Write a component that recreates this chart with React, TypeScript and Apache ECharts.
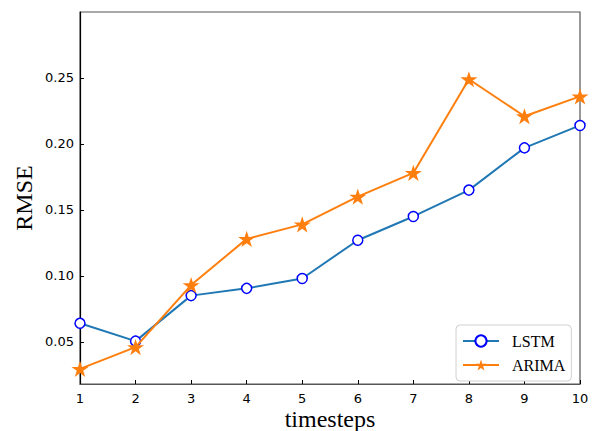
import React, { useEffect, useRef } from "react";
import * as echarts from "echarts";

const timesteps = [1, 2, 3, 4, 5, 6, 7, 8, 9, 10];
const lstm = [0.064, 0.0505, 0.085, 0.0905, 0.098, 0.127, 0.145, 0.165, 0.197, 0.214];
const arima = [0.0295, 0.046, 0.093, 0.128, 0.139, 0.16, 0.178, 0.249, 0.221, 0.236];
const yTicks = [0.05, 0.1, 0.15, 0.2, 0.25];

const STAR =
  "path://M50 0 L61.23 34.55 L97.55 34.55 L68.16 55.9 L79.39 90.45 L50 69.1 L20.61 90.45 L31.84 55.9 L2.45 34.55 L38.77 34.55 Z";

export default function App() {
  const ref = useRef<HTMLDivElement>(null);
  useEffect(() => {
    if (!ref.current) return;
    const chart = echarts.init(ref.current, undefined, { renderer: "svg" });
    const tickFont = { fontFamily: "DejaVu Sans", fontSize: 13, color: "#000" };
    chart.setOption({
      animation: false,
      grid: {
        left: 80,
        right: 17,
        top: 12,
        bottom: 47,
        containLabel: false,
        outerBoundsMode: "none",
        show: true,
        borderColor: "#555",
        borderWidth: 1.2,
        backgroundColor: "transparent",
      },
      legend: {
        orient: "vertical",
        left: 456,
        top: 325,
        padding: [8, 6, 8, 6],
        itemGap: 8,
        itemWidth: 36,
        itemHeight: 14,
        backgroundColor: "#fff",
        borderColor: "#d0d0d0",
        borderWidth: 1,
        borderRadius: 4,
        textStyle: { fontFamily: "Liberation Serif", fontSize: 16, color: "#000", padding: [0, 0, 0, 8] },
        data: ["LSTM", "ARIMA"],
      },
      xAxis: {
        type: "value",
        min: 1,
        max: 10,
        interval: 1,
        name: "timesteps",
        nameLocation: "middle",
        nameGap: 23,
        nameMoveOverlap: false,
        nameTextStyle: { fontFamily: "Liberation Serif", fontSize: 24, color: "#000", lineHeight: 24 },
        axisLine: { show: true, lineStyle: { color: "#555", width: 1.2 } },
        axisTick: { show: true, inside: true, length: 4, lineStyle: { color: "#000" } },
        axisLabel: { ...tickFont, margin: 8 },
        splitLine: { show: false },
      },
      yAxis: {
        type: "value",
        min: 0.018,
        max: 0.3,
        name: "RMSE",
        nameLocation: "middle",
        nameGap: 44,
        nameMoveOverlap: false,
        nameTextStyle: { fontFamily: "Liberation Serif", fontSize: 24, color: "#000" },
        axisLine: { show: true, lineStyle: { color: "#000", width: 1.2 } },
        axisTick: { show: true, inside: true, length: 4, customValues: yTicks, lineStyle: { color: "#000" } },
        axisLabel: {
          ...tickFont,
          margin: 6,
          customValues: yTicks,
          formatter: (v: number) => v.toFixed(2),
        },
        splitLine: { show: false },
      },
      series: [
        {
          name: "LSTM",
          type: "line",
          data: timesteps.map((t, i) => [t, lstm[i]]),
          lineStyle: { color: "#1f77b4", width: 2 },
          itemStyle: { color: "#fff", borderColor: "#0000ff", borderWidth: 1.5 },
          symbol: "circle",
          symbolSize: 10,
          showAllSymbol: true,
          z: 2,
        },
        {
          name: "ARIMA",
          type: "line",
          data: timesteps.map((t, i) => [t, arima[i]]),
          lineStyle: { color: "#ff7f0e", width: 2 },
          itemStyle: { color: "#ff7f0e", borderColor: "#ff7f0e", borderWidth: 0 },
          symbol: STAR,
          symbolKeepAspect: true,
          symbolSize: 17,
          showAllSymbol: true,
          z: 3,
        },
      ],
    });
    return () => chart.dispose();
  }, []);
  return <div ref={ref} style={{ width: 597, height: 431, position: "absolute", left: 0, top: 0 }} />;
}
